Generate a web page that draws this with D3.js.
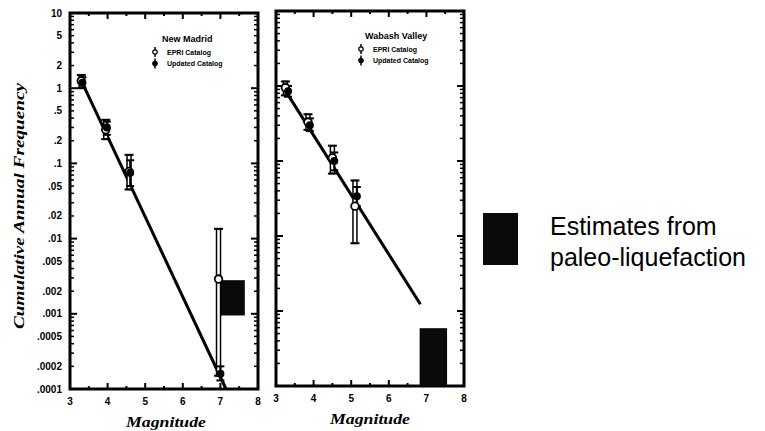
<!DOCTYPE html>
<html><head><meta charset="utf-8">
<script src="https://cdn.jsdelivr.net/npm/d3@7"></script>
<style>
html,body{margin:0;padding:0;background:#fff;}
svg{display:block;}
</style></head>
<body>
<svg id="chart" width="765" height="431"></svg>
<script>
// ---------- data ----------
const yTickValues = [10, 5, 2, 1, 0.5, 0.2, 0.1, 0.05, 0.02, 0.01, 0.005, 0.002, 0.001, 0.0005, 0.0002, 0.0001];
const yTickLabels = ["10", "5", "2", "1", ".5", ".2", ".1", ".05", ".02", ".01", ".005", ".002", ".001", ".0005", ".0002", ".0001"];
const xTickValues = [3, 4, 5, 6, 7, 8];

const panelTitles = ["New Madrid", "Wabash Valley"];
const legendLabels = ["EPRI Catalog", "Updated Catalog"];

// New Madrid
const nmEpriM  = [3.3, 3.95, 4.57, 6.95];
const nmEpriN  = [1.25, 0.28, 0.078, 0.0029];
const nmEpriLo = [1.0, 0.21, 0.045, 0.00015];
const nmEpriHi = [1.5, 0.38, 0.13, 0.0135];
const nmUpdM   = [3.33, 3.98, 4.6, 7.0];
const nmUpdN   = [1.18, 0.3, 0.075, 0.00016];
const nmUpdLo  = [1.02, 0.24, 0.05, 0.00013];
const nmUpdHi  = [1.4, 0.36, 0.11, 0.0002];
const nmLineM  = [3.3, 7.15];
const nmLineN  = [1.26, 0.0001];
const nmBoxM   = [7.0, 7.65];
const nmBoxN   = [0.00095, 0.0028];

// Wabash Valley
const wvEpriM  = [3.25, 3.85, 4.5, 5.1];
const wvEpriN  = [0.95, 0.33, 0.11, 0.025];
const wvEpriLo = [0.75, 0.26, 0.068, 0.008];
const wvEpriHi = [1.15, 0.42, 0.16, 0.055];
const wvUpdM   = [3.32, 3.9, 4.55, 5.15];
const wvUpdN   = [0.85, 0.3, 0.1, 0.034];
const wvUpdLo  = [0.72, 0.25, 0.075, 0.025];
const wvUpdHi  = [1.0, 0.37, 0.13, 0.045];
const wvLineM  = [3.16, 6.84];
const wvLineN  = [1.02, 0.00123];
const wvBoxM   = [6.82, 7.55];
const wvBoxN   = [0.0001, 0.00059];

const noteLines = ["Estimates from", "paleo-liquefaction"];

// ---------- drawing ----------
const svg = d3.select("#chart");
const tickFont = "'Liberation Sans', Arial, sans-serif";
const scriptFont = "'Liberation Serif', 'DejaVu Serif', serif";

const panels = [
  {x0: 70, x1: 258, y0: 13, y1: 389, title: panelTitles[0], yLabels: true,
   epri: {M: nmEpriM, N: nmEpriN, lo: nmEpriLo, hi: nmEpriHi},
   upd: {M: nmUpdM, N: nmUpdN, lo: nmUpdLo, hi: nmUpdHi},
   line: {M: nmLineM, N: nmLineN}, box: {M: nmBoxM, N: nmBoxN},
   legX: 155, legY: 39, titleX: 162, xTitleX: 166},
  {x0: 276, x1: 464, y0: 11, y1: 386, title: panelTitles[1], yLabels: false,
   epri: {M: wvEpriM, N: wvEpriN, lo: wvEpriLo, hi: wvEpriHi},
   upd: {M: wvUpdM, N: wvUpdN, lo: wvUpdLo, hi: wvUpdHi},
   line: {M: wvLineM, N: wvLineN}, box: {M: wvBoxM, N: wvBoxN},
   legX: 361, legY: 36, titleX: 365, xTitleX: 370}
];

panels.forEach((p, pi) => {
  const x = d3.scaleLinear().domain([3, 8]).range([p.x0, p.x1]);
  const y = d3.scaleLog().domain([0.0001, 10]).range([p.y1, p.y0]);
  const g = svg.append("g");

  // minor / major y ticks (left & right, inward)
  const yMinor = [];
  for (let e = -4; e < 1; e++) for (let k = 1; k < 10; k++) yMinor.push(k * Math.pow(10, e));
  yMinor.push(10);
  yMinor.forEach(v => {
    const major = Math.abs(Math.log10(v) - Math.round(Math.log10(v))) < 1e-9;
    const len = major ? 7 : 4;
    g.append("line").attr("x1", x(3)).attr("x2", x(3) + len).attr("y1", y(v)).attr("y2", y(v))
      .attr("stroke", "#000").attr("stroke-width", major ? 2 : 1.5);
    g.append("line").attr("x1", x(8)).attr("x2", x(8) - len).attr("y1", y(v)).attr("y2", y(v))
      .attr("stroke", "#000").attr("stroke-width", major ? 2 : 1.5);
  });
  // x ticks top & bottom
  d3.range(3, 8.01, 0.5).forEach(v => {
    const major = Number.isInteger(v);
    const len = major ? 6 : 3;
    g.append("line").attr("x1", x(v)).attr("x2", x(v)).attr("y1", y(10)).attr("y2", y(10) + len)
      .attr("stroke", "#000").attr("stroke-width", 2);
    g.append("line").attr("x1", x(v)).attr("x2", x(v)).attr("y1", y(0.0001)).attr("y2", y(0.0001) - len)
      .attr("stroke", "#000").attr("stroke-width", 2);
  });

  // frame
  g.append("rect").attr("x", p.x0).attr("y", p.y0).attr("width", p.x1 - p.x0).attr("height", p.y1 - p.y0)
    .attr("fill", "none").attr("stroke", "#000").attr("stroke-width", 3);

  // y tick labels
  if (p.yLabels) {
    yTickValues.forEach((v, i) => {
      g.append("text").attr("x", p.x0 - 8).attr("y", y(v) + 3.5)
        .attr("text-anchor", "end").attr("font-family", tickFont).attr("font-weight", "bold")
        .attr("font-size", 10).text(yTickLabels[i]);
    });
  }
  // x tick labels
  xTickValues.forEach(v => {
    g.append("text").attr("x", x(v)).attr("y", p.y1 + 16)
      .attr("text-anchor", "middle").attr("font-family", tickFont).attr("font-weight", "bold")
      .attr("font-size", 10).text(v);
  });
  // x title
  g.append("text").attr("x", p.xTitleX).attr("y", p.y1 + 38)
    .attr("text-anchor", "middle").attr("font-family", scriptFont).attr("font-style", "italic")
    .attr("font-weight", "bold").attr("font-size", 14)
    .attr("textLength", 80).attr("lengthAdjust", "spacingAndGlyphs").text("Magnitude");

  // regression line
  const lineData = p.line.M.map((m, i) => [m, p.line.N[i]]);
  g.append("path").attr("d", d3.line().x(d => x(d[0])).y(d => y(d[1]))(lineData))
    .attr("stroke", "#000").attr("stroke-width", 3).attr("fill", "none");

  // paleo box
  g.append("rect").attr("x", x(p.box.M[0])).attr("y", y(p.box.N[1]))
    .attr("width", x(p.box.M[1]) - x(p.box.M[0])).attr("height", y(p.box.N[0]) - y(p.box.N[1]))
    .attr("fill", "#0a0a0a");

  // EPRI error bars (double-line style) + open circles
  p.epri.M.forEach((m, i) => {
    const cx = x(m), yl = y(p.epri.lo[i]), yh = y(p.epri.hi[i]);
    g.append("rect").attr("x", cx - 2).attr("y", yh).attr("width", 4).attr("height", yl - yh)
      .attr("fill", "#fff").attr("stroke", "#000").attr("stroke-width", 1.5);
    [yl, yh].forEach(yy => g.append("line").attr("x1", cx - 4.5).attr("x2", cx + 4.5)
      .attr("y1", yy).attr("y2", yy).attr("stroke", "#000").attr("stroke-width", 2));
  });
  // Updated error bars
  p.upd.M.forEach((m, i) => {
    const cx = x(m), yl = y(p.upd.lo[i]), yh = y(p.upd.hi[i]);
    g.append("line").attr("x1", cx).attr("x2", cx).attr("y1", yl).attr("y2", yh)
      .attr("stroke", "#000").attr("stroke-width", 2);
    [yl, yh].forEach(yy => g.append("line").attr("x1", cx - 4).attr("x2", cx + 4)
      .attr("y1", yy).attr("y2", yy).attr("stroke", "#000").attr("stroke-width", 2));
  });
  p.epri.M.forEach((m, i) => {
    g.append("circle").attr("cx", x(m)).attr("cy", y(p.epri.N[i])).attr("r", 3.8)
      .attr("fill", "#fff").attr("stroke", "#000").attr("stroke-width", 1.8);
  });
  p.upd.M.forEach((m, i) => {
    g.append("circle").attr("cx", x(m)).attr("cy", y(p.upd.N[i])).attr("r", 4)
      .attr("fill", "#000");
  });

  // legend
  g.append("text").attr("x", p.titleX).attr("y", p.legY + 3).attr("font-family", tickFont)
    .attr("font-weight", "bold").attr("font-size", 9).text(p.title);
  legendLabels.forEach((lab, i) => {
    const ly = p.legY + 13 + i * 11.5;
    g.append("text").attr("x", p.legX + 12).attr("y", ly + 2.5).attr("font-family", tickFont)
      .attr("font-weight", "bold").attr("font-size", 7).text(lab);
    g.append("line").attr("x1", p.legX).attr("x2", p.legX).attr("y1", ly - 5).attr("y2", ly + 5)
      .attr("stroke", "#000").attr("stroke-width", 1.5);
    g.append("circle").attr("cx", p.legX).attr("cy", ly).attr("r", 2.2)
      .attr("fill", i === 0 ? "#fff" : "#000").attr("stroke", "#000").attr("stroke-width", 1.2);
  });
});

// y-axis title
svg.append("text")
  .attr("transform", "translate(24,206) rotate(-90)")
  .attr("text-anchor", "middle").attr("font-family", scriptFont).attr("font-style", "italic")
  .attr("font-weight", "bold").attr("font-size", 15)
  .attr("textLength", 246).attr("lengthAdjust", "spacingAndGlyphs")
  .text("Cumulative Annual Frequency");

// paleo-liquefaction legend
svg.append("rect").attr("x", 483).attr("y", 213).attr("width", 35).attr("height", 52).attr("fill", "#0a0a0a");
noteLines.forEach((t, i) => {
  svg.append("text").attr("x", 550).attr("y", 235 + i * 31)
    .attr("font-family", tickFont).attr("font-size", 25).attr("fill", "#000").text(t);
});
</script>
</body></html>
